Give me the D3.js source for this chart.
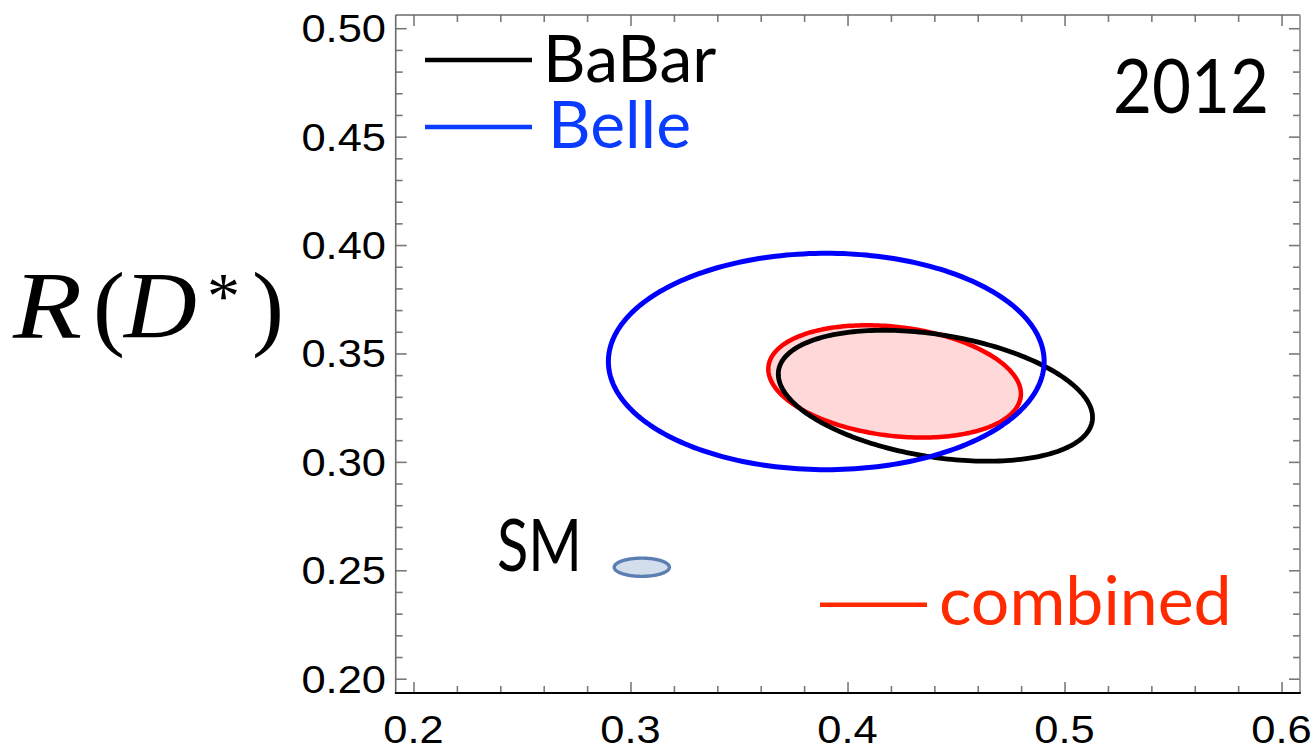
<!DOCTYPE html>
<html>
<head>
<meta charset="utf-8">
<script src="https://cdn.jsdelivr.net/npm/d3@7"></script>
<style>
  html, body { margin: 0; padding: 0; background: #fff; }
  svg { display: block; }
</style>
</head>
<body>
<svg id="chart" width="1316" height="751"></svg>
<script>
// R(D) vs R(D*) one-sigma regions, 2012
const experiments   = ["BaBar", "Belle", "combined", "SM"];
const centerRD      = [0.4405, 0.3902, 0.4217, 0.3052];
const centerRDstar  = [0.3305, 0.3463, 0.3371, 0.2514];
const sigmaRD       = [0.0724, 0.1004, 0.0582, 0.0127];
const sigmaRDstar   = [0.0302, 0.0499, 0.0259, 0.0042];
const correlation   = [-0.33, 0.0, -0.22, 0.0];

const xTickValues = [0.2, 0.3, 0.4, 0.5, 0.6];
const xTickLabels = ["0.2", "0.3", "0.4", "0.5", "0.6"];
const yTickValues = [0.20, 0.25, 0.30, 0.35, 0.40, 0.45, 0.50];
const yTickLabels = ["0.20", "0.25", "0.30", "0.35", "0.40", "0.45", "0.50"];
const xDomain = [0.1918, 0.6085];
const yDomain = [0.1934, 0.5061];

const legendNames = ["BaBar", "Belle"];
const yearLabel = "2012";

const svg = d3.select("#chart");
const plotLeft = 395.7, plotRight = 1300, plotTop = 15, plotBottom = 693;

const x = d3.scaleLinear().domain(xDomain).range([plotLeft, plotRight]);
const y = d3.scaleLinear().domain(yDomain).range([plotBottom, plotTop]);

const style = {
  BaBar:    { stroke: "#000000", fill: "none",    width: 4.8 },
  Belle:    { stroke: "#0000ff", fill: "none",    width: 5 },
  combined: { stroke: "#ff0000", fill: "#ffd9d9", width: 4.5 },
  SM:       { stroke: "#5b7fb3", fill: "#d3deec", width: 3.4 }
};

// contour of a correlated 2D Gaussian at delta-chi2 = 1
function contour(i) {
  const n = 240, r = correlation[i], s = Math.sqrt(1 - r * r);
  const pts = [];
  for (let k = 0; k < n; k++) {
    const t = 2 * Math.PI * k / n;
    pts.push([
      centerRD[i] + sigmaRD[i] * Math.cos(t),
      centerRDstar[i] + sigmaRDstar[i] * (r * Math.cos(t) + s * Math.sin(t))
    ]);
  }
  return pts;
}
const line = d3.line().x(d => x(d[0])).y(d => y(d[1])).curve(d3.curveLinearClosed);

// ticks on all four sides, pointing inward; majors longer
const xMinor = d3.range(0.2, 0.6001, 0.02);
const yMinor = d3.range(0.20, 0.5001, 0.01);
const isMajor = (v, step) => Math.abs(v / step - Math.round(v / step)) < 1e-6;

function drawAxis(axis, transform, step, attr, sign) {
  const g = svg.append("g").attr("transform", transform).call(axis);
  g.select(".domain").remove();
  g.selectAll(".tick line")
    .attr("stroke", "#7a7a7a")
    .attr("stroke-width", 1.6)
    .attr(attr, d => sign * (isMajor(d, step) ? 11 : 7));
  return g;
}

drawAxis(d3.axisBottom(x).tickValues(xMinor).tickFormat(""), `translate(0,${plotBottom})`, 0.1, "y2", -1);
drawAxis(d3.axisTop(x).tickValues(xMinor).tickFormat(""), `translate(0,${plotTop})`, 0.1, "y2", 1);
drawAxis(d3.axisLeft(y).tickValues(yMinor).tickFormat(""), `translate(${plotLeft},0)`, 0.05, "x2", 1);
drawAxis(d3.axisRight(y).tickValues(yMinor).tickFormat(""), `translate(${plotRight},0)`, 0.05, "x2", -1);

// frame
const frame = svg.append("g").attr("fill", "none");
frame.append("line").attr("x1", plotLeft).attr("x2", plotRight).attr("y1", plotTop).attr("y2", plotTop)
  .attr("stroke", "#6a6a6a").attr("stroke-width", 1.6);
frame.append("line").attr("x1", plotRight).attr("x2", plotRight).attr("y1", plotTop).attr("y2", plotBottom)
  .attr("stroke", "#8a8a8a").attr("stroke-width", 1.6);
frame.append("line").attr("x1", plotLeft).attr("x2", plotLeft).attr("y1", plotTop).attr("y2", plotBottom)
  .attr("stroke", "#6a6a6a").attr("stroke-width", 1.6);
frame.append("line").attr("x1", plotLeft - 0.8).attr("x2", plotRight + 0.8).attr("y1", plotBottom).attr("y2", plotBottom)
  .attr("stroke", "#000").attr("stroke-width", 1.8);

// tick labels (slightly widened glyphs)
const labelFont = "'Liberation Sans', Arial, sans-serif";
const widen = 1.1;
svg.append("g").selectAll("text").data(xTickValues).join("text")
  .attr("transform", d => `translate(${x(d)},743) scale(${widen},1)`)
  .attr("text-anchor", "middle")
  .attr("font-family", labelFont).attr("font-size", 39.5)
  .text((d, i) => xTickLabels[i]);
svg.append("g").selectAll("text").data(yTickValues).join("text")
  .attr("transform", d => `translate(386,${y(d) + 14}) scale(${widen},1)`)
  .attr("text-anchor", "end")
  .attr("font-family", labelFont).attr("font-size", 39.5)
  .text((d, i) => yTickLabels[i]);

// axis title R(D*), set piece by piece
const serif = "'Liberation Serif', 'Times New Roman', serif";
const titleParts = [
  { s: "R", x: 13,  y: 338, size: 96, italic: true,  sx: 1.18 },
  { s: "(", x: 93,  y: 338, size: 96, italic: false, sx: 1.0 },
  { s: "D", x: 124, y: 338, size: 96, italic: true,  sx: 1.05 },
  { s: "*", x: 207, y: 318, size: 66, italic: false, sx: 1.0 },
  { s: ")", x: 252, y: 338, size: 96, italic: false, sx: 1.0 }
];
const title = svg.append("g");
titleParts.forEach(p => {
  title.append("text")
    .attr("transform", `translate(${p.x},${p.y}) scale(${p.sx},1)`)
    .attr("font-family", serif).attr("font-size", p.size)
    .attr("font-style", p.italic ? "italic" : "normal")
    .text(p.s);
});

// regions: combined (filled) first, then BaBar, then Belle, then SM
const order = ["combined", "BaBar", "Belle", "SM"];
svg.append("g").selectAll("path").data(order).join("path")
  .attr("d", name => line(contour(experiments.indexOf(name))))
  .attr("fill", name => style[name].fill)
  .attr("stroke", name => style[name].stroke)
  .attr("stroke-width", name => style[name].width)
  .attr("stroke-linejoin", "round");

// legend
const textFont = "Lato, 'Open Sans', sans-serif";
const legendColors = { BaBar: "#000000", Belle: "#0a3cff" };
const legendY = [60, 127];
const legendBase = [82, 148];
legendNames.forEach((name, i) => {
  svg.append("line")
    .attr("x1", 425).attr("x2", 532)
    .attr("y1", legendY[i]).attr("y2", legendY[i])
    .attr("stroke", legendColors[name]).attr("stroke-width", 4.5);
  svg.append("text")
    .attr("x", name === "BaBar" ? 543 : 548).attr("y", legendBase[i])
    .attr("font-family", textFont).attr("font-size", 66)
    .attr("fill", legendColors[name])
    .text(name);
});

// combined legend entry
svg.append("line")
  .attr("x1", 820).attr("x2", 927).attr("y1", 604.7).attr("y2", 604.7)
  .attr("stroke", "#ff2a00").attr("stroke-width", 4.5);
svg.append("text")
  .attr("x", 939).attr("y", 625)
  .attr("font-family", textFont).attr("font-size", 68)
  .attr("fill", "#ff2a00")
  .text(experiments[2]);

// SM label
svg.append("text")
  .attr("x", 497).attr("y", 571)
  .attr("font-family", textFont).attr("font-size", 72)
  .attr("textLength", 85).attr("lengthAdjust", "spacingAndGlyphs")
  .attr("fill", "#000")
  .text(experiments[3]);

// year
svg.append("text")
  .attr("x", 1113).attr("y", 112.7)
  .attr("font-family", textFont).attr("font-size", 75)
  .attr("textLength", 156).attr("lengthAdjust", "spacingAndGlyphs")
  .attr("fill", "#000")
  .text(yearLabel);
</script>
</body>
</html>
